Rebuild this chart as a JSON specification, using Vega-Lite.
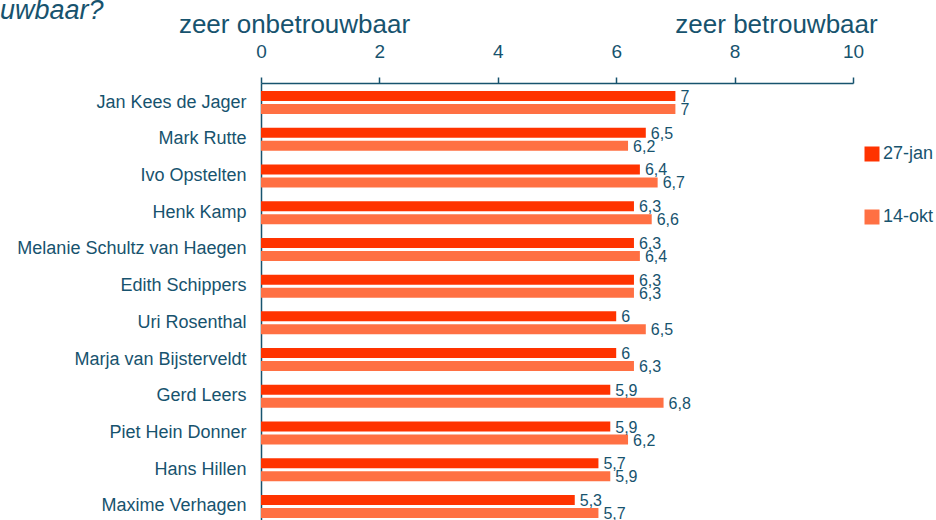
{
  "$schema": "https://vega.github.io/schema/vega-lite/v6.json",
  "width": 592,
  "height": 443,
  "autosize": {"type": "none"},
  "padding": {"left": 261, "top": 83, "right": 83, "bottom": 0},
  "background": "white",
  "config": {
    "locale": {"number": {"decimal": ",", "thousands": ".", "grouping": [3], "currency": ["€", ""]}},
    "view": {"stroke": null},
    "font": "Liberation Sans"
  },
  "title": {
    "text": "uwbaar?",
    "anchor": "start",
    "frame": "group",
    "dx": -261,
    "dy": 14,
    "offset": 0,
    "fontSize": 27,
    "fontStyle": "italic",
    "fontWeight": "normal",
    "color": "#17536E"
  },
  "data": {
    "values": [
      {"naam": "Jan Kees de Jager", "datum": "27-jan", "score": 7},
      {"naam": "Jan Kees de Jager", "datum": "14-okt", "score": 7},
      {"naam": "Mark Rutte", "datum": "27-jan", "score": 6.5},
      {"naam": "Mark Rutte", "datum": "14-okt", "score": 6.2},
      {"naam": "Ivo Opstelten", "datum": "27-jan", "score": 6.4},
      {"naam": "Ivo Opstelten", "datum": "14-okt", "score": 6.7},
      {"naam": "Henk Kamp", "datum": "27-jan", "score": 6.3},
      {"naam": "Henk Kamp", "datum": "14-okt", "score": 6.6},
      {"naam": "Melanie Schultz van Haegen", "datum": "27-jan", "score": 6.3},
      {"naam": "Melanie Schultz van Haegen", "datum": "14-okt", "score": 6.4},
      {"naam": "Edith Schippers", "datum": "27-jan", "score": 6.3},
      {"naam": "Edith Schippers", "datum": "14-okt", "score": 6.3},
      {"naam": "Uri Rosenthal", "datum": "27-jan", "score": 6},
      {"naam": "Uri Rosenthal", "datum": "14-okt", "score": 6.5},
      {"naam": "Marja van Bijsterveldt", "datum": "27-jan", "score": 6},
      {"naam": "Marja van Bijsterveldt", "datum": "14-okt", "score": 6.3},
      {"naam": "Gerd Leers", "datum": "27-jan", "score": 5.9},
      {"naam": "Gerd Leers", "datum": "14-okt", "score": 6.8},
      {"naam": "Piet Hein Donner", "datum": "27-jan", "score": 5.9},
      {"naam": "Piet Hein Donner", "datum": "14-okt", "score": 6.2},
      {"naam": "Hans Hillen", "datum": "27-jan", "score": 5.7},
      {"naam": "Hans Hillen", "datum": "14-okt", "score": 5.9},
      {"naam": "Maxime Verhagen", "datum": "27-jan", "score": 5.3},
      {"naam": "Maxime Verhagen", "datum": "14-okt", "score": 5.7}
    ]
  },
  "encoding": {
    "y": {
      "field": "naam",
      "type": "nominal",
      "sort": null,
      "scale": {"paddingInner": 0.374, "paddingOuter": 0.218},
      "axis": {
        "title": "zeer betrouwbaar",
        "titleAngle": 0,
        "titleX": 515,
        "titleY": -51,
        "titleAlign": "center",
        "titleBaseline": "alphabetic",
        "titleFontSize": 26,
        "titleFontWeight": "normal",
        "titleColor": "#17536E",
        "ticks": false,
        "domain": true,
        "domainColor": "#17536E",
        "domainWidth": 1.5,
        "labelPadding": 15,
        "labelFontSize": 18,
        "labelColor": "#17536E",
        "labelLimit": 400
      }
    },
    "yOffset": {
      "field": "datum",
      "type": "nominal",
      "sort": ["27-jan", "14-okt"],
      "scale": {"paddingInner": 0.23, "paddingOuter": 0}
    },
    "x": {
      "field": "score",
      "type": "quantitative",
      "scale": {"domain": [0, 10], "nice": false},
      "axis": {
        "orient": "top",
        "values": [0, 2, 4, 6, 8, 10],
        "grid": false,
        "title": "zeer onbetrouwbaar",
        "titleX": 33,
        "titleY": -51,
        "titleAlign": "center",
        "titleBaseline": "alphabetic",
        "titleFontSize": 26,
        "titleFontWeight": "normal",
        "titleColor": "#17536E",
        "domainColor": "#17536E",
        "domainWidth": 1.5,
        "tickColor": "#17536E",
        "tickSize": 6,
        "tickWidth": 1.5,
        "labelFontSize": 19,
        "labelColor": "#17536E",
        "labelPadding": 16,
        "labelFlush": false
      }
    }
  },
  "layer": [
    {
      "mark": {"type": "bar"},
      "encoding": {
        "color": {
          "field": "datum",
          "type": "nominal",
          "scale": {"domain": ["27-jan", "14-okt"], "range": ["#FF3300", "#FF7043"]},
          "legend": {
            "title": null,
            "orient": "none",
            "legendX": 602,
            "legendY": 62,
            "symbolType": "square",
            "symbolSize": 225,
            "symbolStrokeWidth": 0,
            "labelFontSize": 18,
            "labelColor": "#17536E",
            "labelOffset": 2,
            "rowPadding": 45,
            "padding": 0
          }
        }
      }
    },
    {
      "mark": {"type": "text", "align": "left", "baseline": "middle", "dx": 5, "dy": 1, "fontSize": 16, "color": "#17536E"},
      "encoding": {
        "text": {"field": "score", "type": "quantitative", "format": "~g"}
      }
    }
  ]
}
